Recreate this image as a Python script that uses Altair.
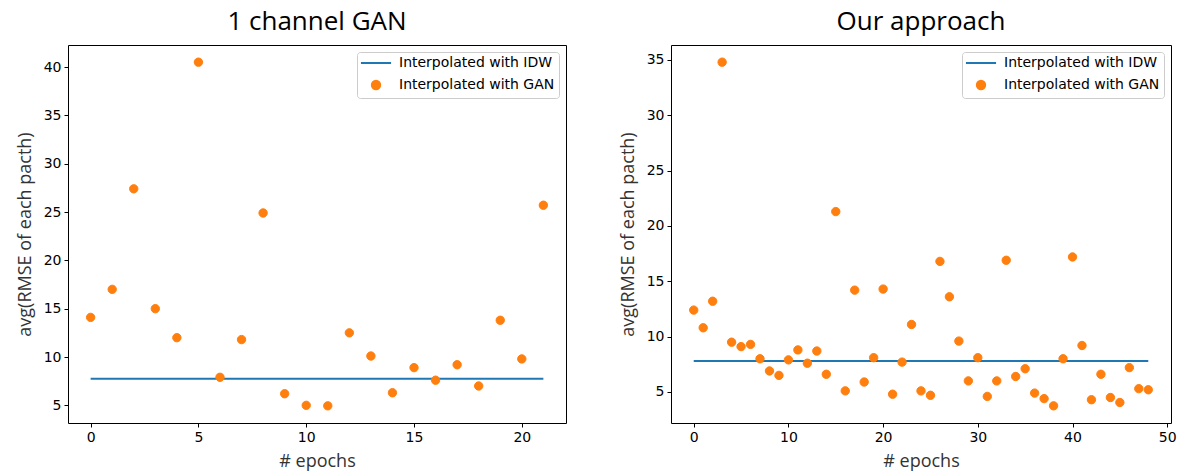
import altair as alt
import pandas as pd

# ---- data ----
left_title = "1 channel GAN"
left_epochs = list(range(22))
left_gan = [14.1, 17.0, 27.4, 15.0, 12.0, 40.5, 7.9, 11.8, 24.9, 6.2, 5.0,
            4.95, 12.5, 10.1, 6.3, 8.9, 7.6, 9.2, 7.0, 13.8, 9.8, 25.7]
left_idw = 7.76
left_x_ticks = [0, 5, 10, 15, 20]
left_y_ticks = [5, 10, 15, 20, 25, 30, 35, 40]

right_title = "Our approach"
right_epochs = list(range(49))
right_gan = [12.4, 10.8, 13.2, 34.8, 9.5, 9.1, 9.3, 8.0, 6.9, 6.5, 7.9, 8.8,
             7.6, 8.7, 6.6, 21.3, 5.1, 14.2, 5.9, 8.1, 14.3, 4.8, 7.7, 11.1,
             5.1, 4.7, 16.8, 13.6, 9.6, 6.0, 8.1, 4.6, 6.0, 16.9, 6.4, 7.1,
             4.9, 4.4, 3.75, 8.0, 17.2, 9.2, 4.3, 6.6, 4.5, 4.05, 7.2, 5.3, 5.2]
right_idw = 7.81
right_x_ticks = [0, 10, 20, 30, 40, 50]
right_y_ticks = [5, 10, 15, 20, 25, 30, 35]

series_names = ["Interpolated with IDW", "Interpolated with GAN"]
series_colors = ["#1f77b4", "#ff7f0e"]

BLUE, ORANGE = series_colors
TITLE_FONT = "Open Sans"
TICK_FONT = "DejaVu Sans"
LINE_SYMBOL = "M-3.6,0H3.6"   # horizontal line glyph for the legend


def axis(title, values, title_padding):
    return alt.Axis(
        title=title, values=values, grid=False, domain=False,
        titleFont=TITLE_FONT, titleFontSize=18, titleFontWeight="normal",
        titleColor="#333333", labelFont=TICK_FONT, labelFontSize=14,
        labelColor="black", tickColor="black", tickSize=4, tickWidth=1,
        labelPadding=3, titlePadding=title_padding,
    )


def panel(title, epochs, gan, idw, x_ticks, y_ticks, width):
    pts = pd.DataFrame({"epoch": epochs, "rmse": gan,
                        "series": series_names[1]})
    line = pd.DataFrame({"x": [epochs[0]], "x2": [epochs[-1]], "y": [idw]})

    span_x = epochs[-1] - epochs[0]
    x_dom = [epochs[0] - 0.05 * span_x, epochs[-1] + 0.05 * span_x]
    lo, hi = min(gan), max(gan)
    y_dom = [lo - 0.05 * (hi - lo), hi + 0.05 * (hi - lo)]

    legend = alt.Legend(
        title=None, orient="top-right", offset=7, strokeColor="#cccccc",
        fillColor="white", cornerRadius=3, padding=4,
        labelFont=TICK_FONT, labelFontSize=14, labelColor="black",
        symbolStrokeWidth=2, symbolSize=70, symbolOffset=8,
        labelOffset=16, rowPadding=6,
    )
    sc = dict(domain=series_names)

    x = alt.X("epoch:Q", scale=alt.Scale(domain=x_dom, nice=False, zero=False),
              axis=axis("# epochs", x_ticks, 8))
    y = alt.Y("rmse:Q", scale=alt.Scale(domain=y_dom, nice=False, zero=False),
              axis=axis("avg(RMSE of each pacth)", y_ticks, 9))

    points = alt.Chart(pts).mark_point(filled=True, opacity=1, strokeWidth=1,
                                       size=70).encode(
        x=x, y=y,
        fill=alt.Fill("series:N", scale=alt.Scale(range=series_colors, **sc), legend=legend),
        stroke=alt.Stroke("series:N", scale=alt.Scale(range=series_colors, **sc), legend=legend),
        shape=alt.Shape("series:N", scale=alt.Scale(range=[LINE_SYMBOL, "circle"], **sc), legend=legend),
    )
    rule = alt.Chart(line).mark_rule(color=BLUE, strokeWidth=2).encode(
        x="x:Q", x2="x2:Q", y="y:Q")

    return alt.layer(rule, points).properties(
        width=width, height=378,
        title=alt.TitleParams(title, font=TITLE_FONT, fontSize=26,
                              fontWeight="normal", color="black",
                              anchor="middle", offset=10),
    )


left = panel(left_title, left_epochs, left_gan, left_idw, left_x_ticks, left_y_ticks, 498)
right = panel(right_title, right_epochs, right_gan, right_idw, right_x_ticks, right_y_ticks, 500)

chart = alt.hconcat(left, right, spacing=51).resolve_scale(
    x="independent", y="independent", fill="independent",
    stroke="independent", shape="independent",
).resolve_legend(
    fill="independent", stroke="independent", shape="independent",
).properties(
    padding={"left": 7, "top": 0, "right": 5, "bottom": 2},
    background="white",
).configure_view(stroke="black", strokeWidth=1)

chart.save("out.html", embed_options={"renderer": "svg", "actions": False})
